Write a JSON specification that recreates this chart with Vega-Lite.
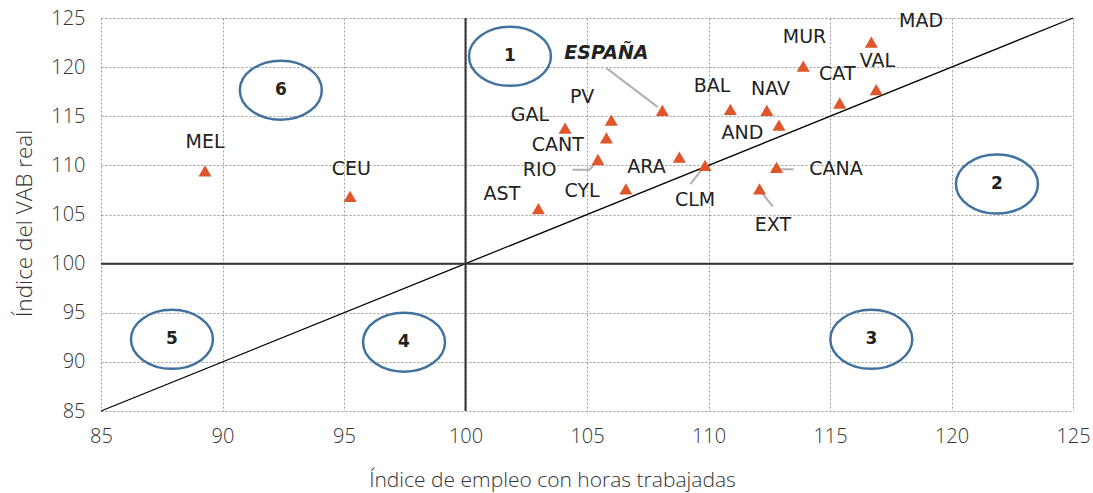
{
  "$schema": "https://vega.github.io/schema/vega-lite/v6.json",
  "width": 972,
  "height": 393,
  "autosize": "none",
  "padding": {"left": 101, "top": 18, "right": 20, "bottom": 82},
  "background": "white",
  "config": {"view": {"stroke": null}},
  "datasets": {
    "pts": [
      {"r": "MEL", "x": 89.28, "y": 109.45, "lx": 89.28, "ly": 112.4},
      {"r": "CEU", "x": 95.25, "y": 106.85, "lx": 95.3, "ly": 109.6},
      {"r": "AST", "x": 103.0, "y": 105.6, "lx": 101.5, "ly": 107.1},
      {"r": "GAL", "x": 104.1, "y": 113.8, "lx": 102.65, "ly": 115.1},
      {"r": "PV", "x": 106.0, "y": 114.6, "lx": 104.8, "ly": 117.0},
      {"r": "CANT", "x": 105.8, "y": 112.8, "lx": 103.8, "ly": 112.1},
      {"r": "RIO", "x": 105.45, "y": 110.6, "lx": 103.05, "ly": 109.5},
      {"r": "CYL", "x": 106.6, "y": 107.6, "lx": 104.8, "ly": 107.4},
      {"r": "ARA", "x": 108.8, "y": 110.85, "lx": 107.45, "ly": 109.8},
      {"r": "CLM", "x": 109.86, "y": 110.0, "lx": 109.45, "ly": 106.5},
      {"r": "BAL", "x": 110.9, "y": 115.7, "lx": 110.15, "ly": 118.1},
      {"r": "NAV", "x": 112.4, "y": 115.6, "lx": 112.55, "ly": 117.8},
      {"r": "AND", "x": 112.9, "y": 114.1, "lx": 111.4, "ly": 113.3},
      {"r": "CANA", "x": 112.8, "y": 109.8, "lx": 115.25, "ly": 109.6},
      {"r": "EXT", "x": 112.1, "y": 107.6, "lx": 112.65, "ly": 103.9},
      {"r": "MUR", "x": 113.9, "y": 120.1, "lx": 113.95, "ly": 123.1},
      {"r": "CAT", "x": 115.4, "y": 116.35, "lx": 115.3, "ly": 119.3},
      {"r": "MAD", "x": 116.7, "y": 122.55, "lx": 118.75, "ly": 124.7},
      {"r": "VAL", "x": 116.9, "y": 117.7, "lx": 116.95, "ly": 120.6}
    ],
    "esp": [
      {"r": "ESPAÑA", "x": 108.1, "y": 115.6, "lx": 105.8, "ly": 121.45}
    ],
    "leaders": [
      {"g": "ESP", "o": 1, "x": 105.8, "y": 119.9},
      {"g": "ESP", "o": 2, "x": 107.9, "y": 115.95},
      {"g": "RIO", "o": 1, "x": 104.4, "y": 109.55},
      {"g": "RIO", "o": 2, "x": 105.1, "y": 109.55},
      {"g": "RIO", "o": 3, "x": 105.45, "y": 110.45},
      {"g": "CLM", "o": 1, "x": 109.25, "y": 108.1},
      {"g": "CLM", "o": 2, "x": 109.8, "y": 109.8},
      {"g": "CANA", "o": 1, "x": 112.6, "y": 109.6},
      {"g": "CANA", "o": 2, "x": 113.5, "y": 109.6},
      {"g": "EXT", "o": 1, "x": 112.1, "y": 107.5},
      {"g": "EXT", "o": 2, "x": 112.65, "y": 105.8}
    ],
    "zones": [
      {"n": "1", "x": 101.83, "y": 121.1},
      {"n": "2", "x": 121.87, "y": 108.1},
      {"n": "3", "x": 116.7, "y": 92.3},
      {"n": "4", "x": 97.47, "y": 92.0},
      {"n": "5", "x": 87.92, "y": 92.3},
      {"n": "6", "x": 92.4, "y": 117.65}
    ],
    "diag": [
      {"x": 85, "y": 85},
      {"x": 125, "y": 125}
    ],
    "ref": [{"v": 100}]
  },
  "layer": [
    {
      "data": {"name": "diag"},
      "mark": {"type": "line", "color": "#000000", "strokeWidth": 1.3},
      "encoding": {
        "x": {
          "field": "x", "type": "quantitative",
          "scale": {"domain": [85, 125], "nice": false, "zero": false},
          "axis": {
            "values": [85, 90, 95, 100, 105, 110, 115, 120, 125],
            "title": "Índice de empleo con horas trabajadas",
            "domain": false, "ticks": false,
            "grid": true, "gridColor": "#9a9a9a", "gridDash": [2, 2], "gridWidth": 1,
            "labelFont": "Open Sans", "labelFontSize": 20, "labelFontWeight": 300, "labelColor": "#333333",
            "labelPadding": 15, "labelFlush": false,
            "titleFont": "Open Sans", "titleFontSize": 21, "titleFontWeight": 300,
            "titleColor": "#333333", "titlePadding": 23, "titleX": 451, "titleAnchor": null, "titleAlign": "center"
          }
        },
        "y": {
          "field": "y", "type": "quantitative",
          "scale": {"domain": [85, 125], "nice": false, "zero": false},
          "axis": {
            "values": [85, 90, 95, 100, 105, 110, 115, 120, 125],
            "title": "Índice del VAB real",
            "domain": false, "ticks": false,
            "grid": true, "gridColor": "#9a9a9a", "gridDash": [2, 2], "gridWidth": 1,
            "labelFont": "Open Sans", "labelFontSize": 20, "labelFontWeight": 300, "labelColor": "#333333",
            "labelPadding": 16,
            "titleFont": "Open Sans", "titleFontSize": 22.5, "titleFontWeight": 300,
            "titleColor": "#333333", "titlePadding": 14, "titleY": 205, "titleAlign": "center"
          }
        },
        "order": {"field": "x"}
      }
    },
    {
      "data": {"name": "ref"},
      "mark": {"type": "rule", "color": "#333333", "strokeWidth": 2},
      "encoding": {"x": {"field": "v", "type": "quantitative"}}
    },
    {
      "data": {"name": "ref"},
      "mark": {"type": "rule", "color": "#333333", "strokeWidth": 2},
      "encoding": {"y": {"field": "v", "type": "quantitative"}}
    },
    {
      "data": {"name": "leaders"},
      "mark": {"type": "line", "color": "#b0b0b0", "strokeWidth": 2},
      "encoding": {
        "x": {"field": "x", "type": "quantitative"},
        "y": {"field": "y", "type": "quantitative"},
        "detail": {"field": "g"},
        "order": {"field": "o"}
      }
    },
    {
      "data": {"name": "pts"},
      "mark": {"type": "point", "shape": "triangle-up", "filled": true, "color": "#E0562B", "opacity": 1, "size": 170},
      "encoding": {
        "x": {"field": "x", "type": "quantitative"},
        "y": {"field": "y", "type": "quantitative"}
      }
    },
    {
      "data": {"name": "esp"},
      "mark": {"type": "point", "shape": "triangle-up", "filled": true, "color": "#E0562B", "opacity": 1, "size": 170},
      "encoding": {
        "x": {"field": "x", "type": "quantitative"},
        "y": {"field": "y", "type": "quantitative"}
      }
    },
    {
      "data": {"name": "pts"},
      "mark": {"type": "text", "font": "DejaVu Sans", "fontSize": 19, "color": "#222222", "align": "center", "baseline": "middle"},
      "encoding": {
        "x": {"field": "lx", "type": "quantitative"},
        "y": {"field": "ly", "type": "quantitative"},
        "text": {"field": "r"}
      }
    },
    {
      "data": {"name": "esp"},
      "mark": {"type": "text", "font": "DejaVu Sans", "fontSize": 19, "fontWeight": "bold", "fontStyle": "italic", "color": "#222222", "align": "center", "baseline": "middle"},
      "encoding": {
        "x": {"field": "lx", "type": "quantitative"},
        "y": {"field": "ly", "type": "quantitative"},
        "text": {"field": "r"}
      }
    },
    {
      "data": {"name": "zones"},
      "mark": {"type": "point", "shape": "M -1 0 A 1 0.72 0 1 0 1 0 A 1 0.72 0 1 0 -1 0 Z", "filled": false, "color": "#41729F", "strokeWidth": 2.5, "opacity": 1, "size": 6724},
      "encoding": {
        "x": {"field": "x", "type": "quantitative"},
        "y": {"field": "y", "type": "quantitative"}
      }
    },
    {
      "data": {"name": "zones"},
      "mark": {"type": "text", "font": "DejaVu Sans", "fontSize": 17, "fontWeight": "bold", "color": "#222222", "align": "center", "baseline": "middle"},
      "encoding": {
        "x": {"field": "x", "type": "quantitative"},
        "y": {"field": "y", "type": "quantitative"},
        "text": {"field": "n"}
      }
    }
  ]
}
